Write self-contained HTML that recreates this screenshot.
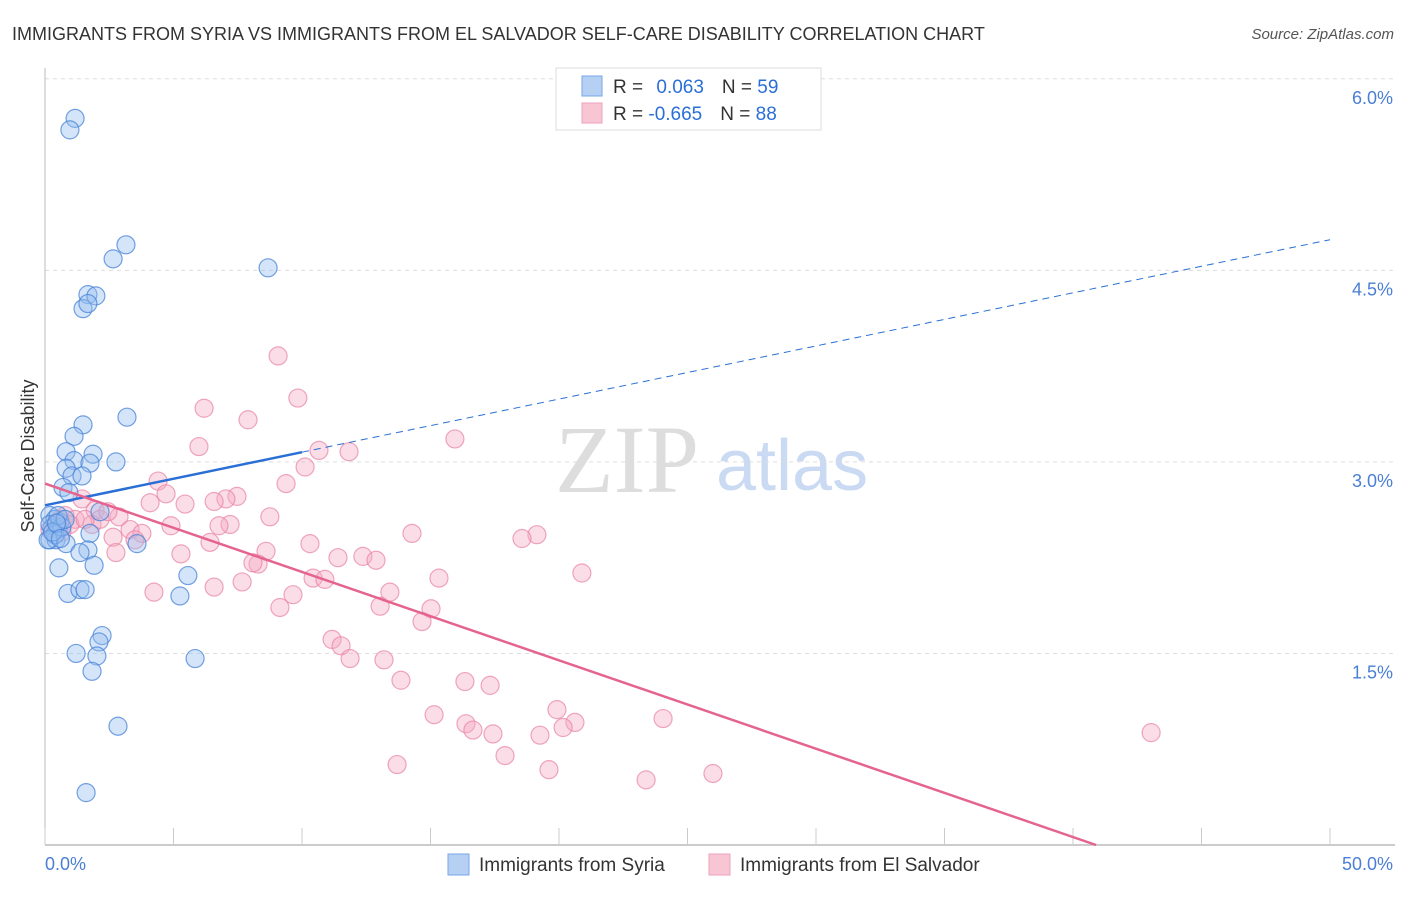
<!DOCTYPE html>
<html><head><meta charset="utf-8"><style>
body{margin:0;background:#fff;font-family:"Liberation Sans",sans-serif}
svg text{font-family:"Liberation Sans",sans-serif}
</style></head><body>
<svg id="chart" width="1406" height="892" xmlns="http://www.w3.org/2000/svg">
<text x="12" y="40" font-size="18" fill="#333">IMMIGRANTS FROM SYRIA VS IMMIGRANTS FROM EL SALVADOR SELF-CARE DISABILITY CORRELATION CHART</text>
<text x="1394" y="39" font-size="15" fill="#555" font-style="italic" text-anchor="end">Source: ZipAtlas.com</text>
<text x="555" y="492" font-size="96" fill="#ddd" font-family="Liberation Serif" style="font-family:'Liberation Serif',serif">ZIP</text>
<text x="716" y="490" font-size="72" fill="#c9daf2">atlas</text>
<text transform="translate(34,456) rotate(-90)" font-size="18" fill="#333" text-anchor="middle">Self-Care Disability</text>
<g id="grid"></g><g id="axes"></g><g id="pts"></g><g id="lines"></g>
<g>
<rect x="556" y="68" width="265" height="62" fill="#fff" stroke="#ddd"/>
<rect x="582" y="76" width="20" height="20" fill="#b6d0f4" stroke="#7aa6e6"/>
<rect x="582" y="103" width="20" height="20" fill="#f8c5d4" stroke="#eea3bb"/>
<text x="613" y="93" font-size="19" fill="#333">R = <tspan fill="#2a6fd6" dx="8">0.063</tspan><tspan dx="18" fill="#333">N = </tspan><tspan fill="#2a6fd6">59</tspan></text>
<text x="613" y="120" font-size="19" fill="#333">R = <tspan fill="#2a6fd6">-0.665</tspan><tspan dx="18" fill="#333">N = </tspan><tspan fill="#2a6fd6">88</tspan></text>
</g>
<g>
<rect x="448" y="854" width="21" height="21" fill="#b6d0f4" stroke="#7aa6e6"/>
<text x="479" y="871" font-size="19" fill="#333">Immigrants from Syria</text>
<rect x="709" y="854" width="21" height="21" fill="#f8c5d4" stroke="#eea3bb"/>
<text x="740" y="871" font-size="19" fill="#333">Immigrants from El Salvador</text>
</g>
</svg>
<script>
const xTicksLabels=["0.0%","50.0%"];
const yTicks=[1.5,3.0,4.5,6.0];
const syriaX=[1.17,0.97,3.15,2.65,8.68,1.67,1.98,1.48,1.67,3.19,1.48,1.13,0.82,1.87,1.13,1.75,2.76,0.82,1.05,1.44,0.70,0.93,0.19,0.39,0.58,2.14,0.27,0.51,1.75,0.19,0.43,0.82,3.58,1.67,1.36,0.54,1.91,5.56,0.89,1.36,1.56,5.25,2.22,2.10,1.21,2.02,5.84,1.83,2.84,1.60,0.19,0.39,0.66,0.12,0.51,0.78,0.30,0.45,0.60];
const syriaY=[5.69,5.60,4.70,4.59,4.52,4.31,4.30,4.20,4.24,3.35,3.29,3.20,3.08,3.06,3.01,2.99,3.00,2.95,2.89,2.89,2.80,2.76,2.58,2.55,2.53,2.61,2.48,2.47,2.44,2.39,2.39,2.36,2.36,2.31,2.29,2.17,2.19,2.11,1.97,2.00,2.00,1.95,1.64,1.59,1.50,1.48,1.46,1.36,0.93,0.41,2.51,2.43,2.49,2.39,2.58,2.55,2.45,2.52,2.40];
const salvX=[9.07,9.84,6.19,7.90,15.95,5.99,10.66,11.83,10.12,4.40,9.38,4.71,7.47,7.04,1.44,4.09,5.45,6.58,1.95,2.88,8.75,0.78,1.17,0.51,1.83,4.90,7.20,6.77,3.31,3.77,14.28,19.14,18.56,10.31,2.65,3.50,6.42,8.60,5.29,2.76,12.37,11.40,12.88,8.29,8.09,20.89,10.43,10.89,15.33,7.67,6.58,4.24,13.42,9.65,9.14,13.04,15.02,14.67,11.17,11.52,11.87,13.19,13.85,16.34,17.32,19.92,15.14,24.05,16.38,20.62,16.65,20.16,17.43,19.26,43.04,17.90,13.70,19.61,23.39,25.99,0.39,0.58,0.19,0.97,2.14,2.45,0.66,1.56];
const salvY=[3.83,3.50,3.42,3.33,3.18,3.12,3.09,3.08,2.96,2.85,2.83,2.75,2.73,2.71,2.71,2.68,2.67,2.69,2.62,2.57,2.57,2.58,2.55,2.53,2.51,2.50,2.51,2.50,2.47,2.44,2.44,2.43,2.40,2.36,2.41,2.39,2.37,2.30,2.28,2.29,2.26,2.25,2.23,2.20,2.21,2.13,2.09,2.08,2.09,2.06,2.02,1.98,1.98,1.96,1.86,1.87,1.85,1.75,1.61,1.56,1.46,1.45,1.29,1.28,1.25,1.06,1.02,0.99,0.95,0.96,0.90,0.92,0.87,0.86,0.88,0.70,0.63,0.59,0.51,0.56,2.51,2.55,2.47,2.51,2.55,2.61,2.45,2.55];
const syriaTrend=[2.66,4.74];
const salvTrend=[2.83,-0.63];
const NS="http://www.w3.org/2000/svg";
const X=v=>45+v*25.7, Y=v=>845-v*127.7;
function mk(tag,attrs,parent){const e=document.createElementNS(NS,tag);for(const k in attrs)e.setAttribute(k,attrs[k]);document.getElementById(parent).appendChild(e);return e;}
yTicks.forEach(t=>{
 const l=mk('line',{x1:45,x2:1395,y1:Y(t),y2:Y(t),stroke:'#ddd','stroke-dasharray':'4,4'},'grid');
 
 
 const tx=mk('text',{x:1393,y:Y(t)+25,'font-size':18,fill:'#4a7fd4','text-anchor':'end'},'grid');
 tx.textContent=t.toFixed(1)+'%';
 
 
});
const ax=mk('line',{x1:45,x2:45,y1:68,y2:845,stroke:'#bbb'},'axes');


const bx=mk('line',{x1:45,x2:1395,y1:845,y2:845,stroke:'#bbb','stroke-width':1.5},'axes');


for(let i=0;i<=10;i++){const t=mk('line',{x1:X(i*5),x2:X(i*5),y1:828,y2:845,stroke:'#ccc'},'axes');
 
 }
[[0,'start'],[50,'end']].forEach((p,i)=>{const t=mk('text',{x:i?1393:45,y:870,'font-size':18,fill:'#4a7fd4','text-anchor':p[1]},'axes');t.textContent=xTicksLabels[i];
 
 });
salvX.forEach((v,i)=>{const c=mk('circle',{cx:X(v),cy:Y(salvY[i]),r:9,fill:'rgba(244,170,194,0.4)',stroke:'rgba(232,130,162,0.7)','stroke-width':1.2},'pts');
 
 });
syriaX.forEach((v,i)=>{const c=mk('circle',{cx:X(v),cy:Y(syriaY[i]),r:9,fill:'rgba(150,190,240,0.4)',stroke:'rgba(70,130,215,0.75)','stroke-width':1.2},'pts');
 
 });
const sy=x=>syriaTrend[0]+(syriaTrend[1]-syriaTrend[0])*x/50;
let l1=mk('line',{x1:X(0),y1:Y(sy(0)),x2:X(10),y2:Y(sy(10)),stroke:'#2a6fd6','stroke-width':2.5},'lines');


let l2=mk('line',{x1:X(10),y1:Y(sy(10)),x2:X(50),y2:Y(sy(50)),stroke:'#2a6fd6','stroke-width':1,'stroke-dasharray':'7,5'},'lines');


const sv=x=>salvTrend[0]+(salvTrend[1]-salvTrend[0])*x/50;
const x0=salvTrend[0]/(salvTrend[0]-salvTrend[1])*50;
let l3=mk('line',{x1:X(0),y1:Y(sv(0)),x2:X(x0),y2:Y(0),stroke:'#e5648e','stroke-width':2.5},'lines');


</script>
</body></html>
